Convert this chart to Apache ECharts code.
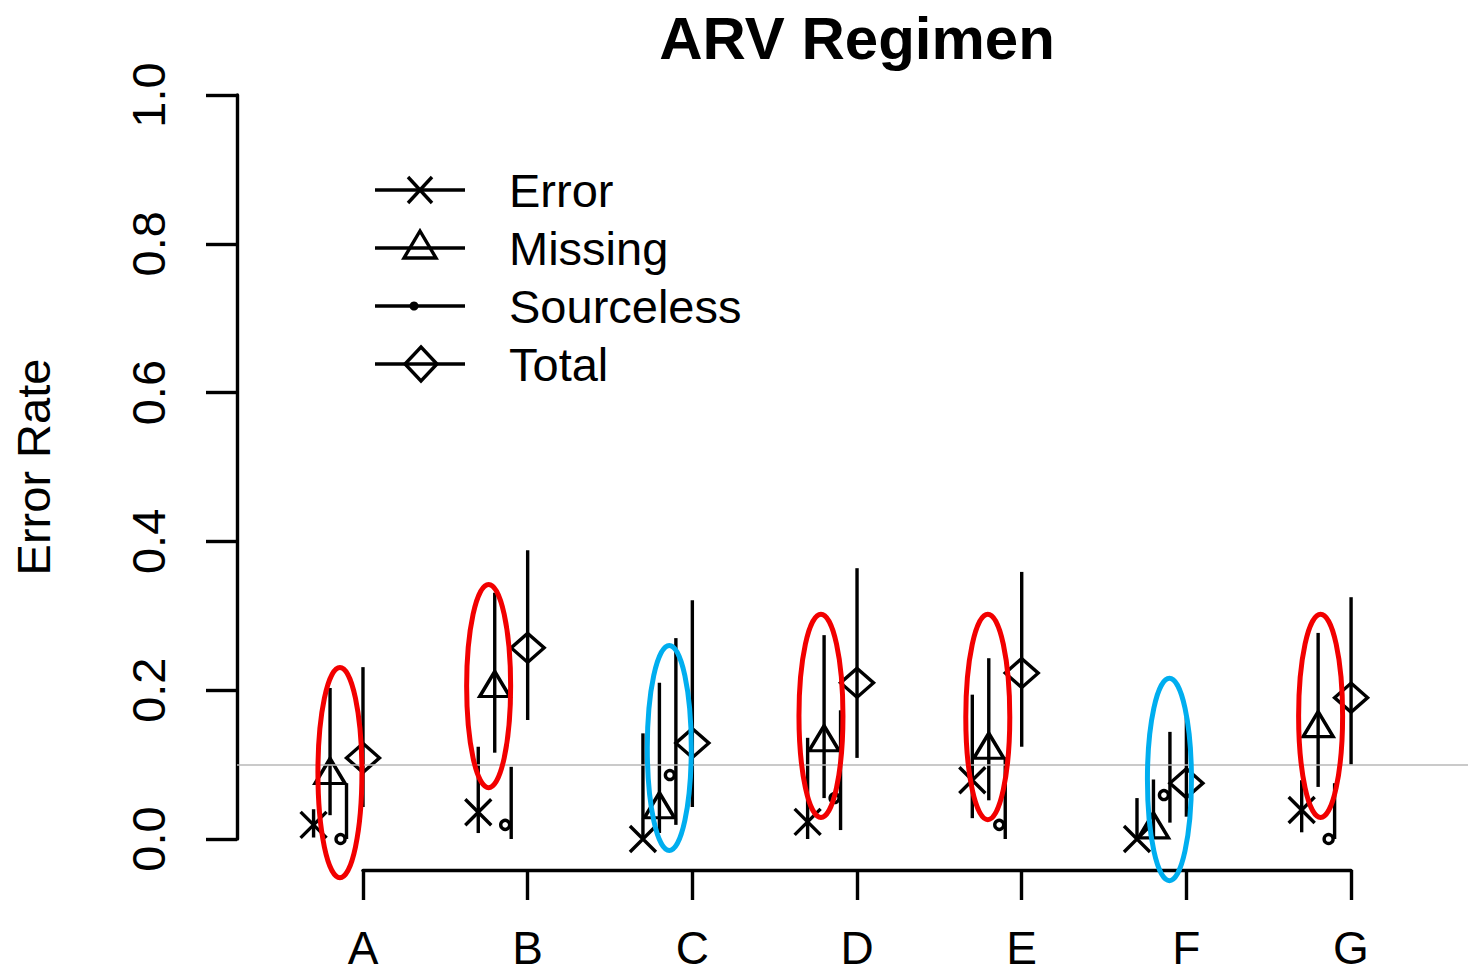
<!DOCTYPE html>
<html>
<head>
<meta charset="utf-8">
<script src="https://cdn.jsdelivr.net/npm/echarts@6/dist/echarts.min.js"></script>
<style>
html,body{margin:0;padding:0;background:#fff;}
#chart{width:1468px;height:976px;}
</style>
</head>
<body>
<div id="chart"></div>
<script>
// ---- data ----
const categories = ['A', 'B', 'C', 'D', 'E', 'F', 'G'];
const yTicks = [0, 0.2, 0.4, 0.6, 0.8, 1.0];

const errorMean = [0.019, 0.036, 0.0, 0.023, 0.079, 0.0, 0.039];
const errorLo   = [0.002, 0.008, 0.0, 0.0, 0.028, 0.0, 0.009];
const errorHi   = [0.040, 0.124, 0.142, 0.136, 0.194, 0.055, 0.079];

const missingMean = [0.086, 0.203, 0.040, 0.130, 0.120, 0.013, 0.149];
const missingLo   = [0.032, 0.116, 0.008, 0.055, 0.052, 0.0, 0.070];
const missingHi   = [0.203, 0.331, 0.210, 0.274, 0.243, 0.080, 0.277];

const sourcelessMean = [0.0, 0.019, 0.086, 0.055, 0.019, 0.059, 0.0];
const sourcelessLo   = [0.0, 0.0, 0.019, 0.012, 0.0, 0.022, 0.0];
const sourcelessHi   = [0.075, 0.097, 0.270, 0.173, 0.110, 0.144, 0.075];

const totalMean = [0.109, 0.257, 0.129, 0.210, 0.223, 0.075, 0.190];
const totalLo   = [0.043, 0.160, 0.043, 0.109, 0.124, 0.030, 0.100];
const totalHi   = [0.231, 0.388, 0.321, 0.364, 0.359, 0.164, 0.325];

// highlight ellipses (annotation): horizontal offset (category units), value range, colour key
const ellipseX   = [-0.14, -0.237, -0.14, -0.219, -0.206, -0.103, -0.185];
const ellipseLo  = [-0.052, 0.069, -0.0155, 0.029, 0.026, -0.056, 0.029];
const ellipseHi  = [0.2305, 0.342, 0.26, 0.302, 0.302, 0.216, 0.302];
const ellipseKey = ['red', 'red', 'blue', 'red', 'red', 'blue', 'red'];

const refLine = 0.1;

// ---- styling / layout ----
const FONT = "'Liberation Sans', Arial, Helvetica, sans-serif";
const COLORS = { red: '#f20000', blue: '#00aeef' };
const LW = 3.4;
const seriesDefs = [
  { name: 'Error', off: -0.30, mean: errorMean, lo: errorLo, hi: errorHi,
    symbol: 'path://M0,0L10,10M10,0L0,10', size: [26, 26], symOff: [0, 0], fill: 'none' },
  { name: 'Missing', off: -0.20, mean: missingMean, lo: missingLo, hi: missingHi,
    symbol: 'triangle', size: [30, 25], symOff: [0, -4], fill: 'none' },
  { name: 'Sourceless', off: -0.10, mean: sourcelessMean, lo: sourcelessLo, hi: sourcelessHi,
    symbol: 'circle', size: 9, symOff: [-6, 0], fill: '#fff' },
  { name: 'Total', off: 0.0, mean: totalMean, lo: totalLo, hi: totalHi,
    symbol: 'diamond', size: [33, 29], symOff: [0, 0], fill: 'none' }
];

const chart = echarts.init(document.getElementById('chart'), null, { renderer: 'svg' });

function barRender(params, api) {
  const x = api.value(0);
  const p1 = api.coord([x, api.value(1)]);
  const p2 = api.coord([x, api.value(2)]);
  return {
    type: 'line',
    shape: { x1: p1[0], y1: p1[1], x2: p2[0], y2: p2[1] },
    style: { stroke: '#000', lineWidth: LW }
  };
}

function ellipseRender(params, api) {
  const x = api.value(0);
  const p1 = api.coord([x, api.value(1)]);
  const p2 = api.coord([x, api.value(2)]);
  const key = ellipseKey[params.dataIndex];
  return {
    type: 'ellipse',
    shape: { cx: p1[0], cy: (p1[1] + p2[1]) / 2, rx: 22, ry: Math.abs(p1[1] - p2[1]) / 2 },
    style: { fill: 'none', stroke: COLORS[key], lineWidth: 5 }
  };
}

const series = [];
seriesDefs.forEach(function (d) {
  series.push({
    name: d.name + ' CI',
    type: 'custom',
    xAxisIndex: 0, yAxisIndex: 0,
    renderItem: barRender,
    clip: false,
    silent: true,
    z: 2,
    data: categories.map(function (c, i) { return [i + d.off, d.lo[i], d.hi[i]]; })
  });
  series.push({
    name: d.name,
    type: 'scatter',
    xAxisIndex: 0, yAxisIndex: 0,
    symbol: d.symbol,
    symbolSize: d.size,
    symbolOffset: d.symOff,
    silent: true,
    z: 3,
    itemStyle: { color: d.fill, borderColor: '#000', borderWidth: LW, opacity: 1 },
    data: categories.map(function (c, i) { return [i + d.off, d.mean[i]]; })
  });
});

// reference line at 0.1
series.push({
  name: 'ref',
  type: 'line',
  xAxisIndex: 0, yAxisIndex: 0,
  data: [],
  silent: true,
  z: 1,
  markLine: {
    silent: true,
    symbol: 'none',
    label: { show: false },
    lineStyle: { color: '#b8b8b8', width: 1.5, type: 'solid' },
    data: [{ yAxis: refLine }]
  }
});

// highlight ellipses
series.push({
  name: 'highlight',
  type: 'custom',
  xAxisIndex: 0, yAxisIndex: 0,
  renderItem: ellipseRender,
  clip: false,
  silent: true,
  z: 10,
  data: categories.map(function (c, i) { return [i + ellipseX[i], ellipseLo[i], ellipseHi[i]]; })
});

// legend drawn as graphic (line + marker + label)
const legendRows = [190, 248, 306, 364];
const legendGraphics = [];
seriesDefs.forEach(function (d, k) {
  const y = legendRows[k];
  legendGraphics.push({ type: 'line', shape: { x1: 375, y1: y, x2: 465, y2: y }, style: { stroke: '#000', lineWidth: LW } });
  if (d.name === 'Error') {
    legendGraphics.push({ type: 'line', shape: { x1: 408, y1: y - 13, x2: 432, y2: y + 13 }, style: { stroke: '#000', lineWidth: LW } });
    legendGraphics.push({ type: 'line', shape: { x1: 408, y1: y + 13, x2: 432, y2: y - 13 }, style: { stroke: '#000', lineWidth: LW } });
  } else if (d.name === 'Missing') {
    legendGraphics.push({ type: 'polygon', shape: { points: [[420, y - 17], [436, y + 10], [404, y + 10]] }, style: { fill: 'none', stroke: '#000', lineWidth: LW } });
  } else if (d.name === 'Sourceless') {
    legendGraphics.push({ type: 'circle', shape: { cx: 414, cy: y, r: 4.5 }, style: { fill: '#000' } });
  } else {
    legendGraphics.push({ type: 'polygon', shape: { points: [[421, y - 17], [437, y], [421, y + 17], [405, y]] }, style: { fill: 'none', stroke: '#000', lineWidth: LW } });
  }
  legendGraphics.push({ type: 'text', x: 509, y: y, style: { text: d.name, font: '47px ' + FONT, fill: '#000', textAlign: 'left', textVerticalAlign: 'middle' } });
});

const option = {
  animation: false,
  backgroundColor: '#fff',
  title: {
    text: 'ARV Regimen',
    left: 852,
    textAlign: 'center',
    top: 3,
    textStyle: { fontFamily: FONT, fontSize: 60, fontWeight: 'bold', color: '#000' }
  },
  graphic: legendGraphics,
  grid: [
    { left: 237, right: 0, top: 95, height: 744, containLabel: false },
    { left: 363, right: 117, top: 869, height: 1, containLabel: false }
  ],
  xAxis: [
    { type: 'value', gridIndex: 0, min: -0.765, max: 6.71, show: false },
    {
      type: 'category', gridIndex: 1, data: categories, boundaryGap: false, position: 'bottom',
      axisLine: { show: true, lineStyle: { color: '#000', width: LW } },
      axisTick: { show: true, length: 30, alignWithLabel: true, lineStyle: { color: '#000', width: LW } },
      axisLabel: { color: '#000', fontFamily: FONT, fontSize: 46, margin: 55, interval: 0 },
      splitLine: { show: false }
    }
  ],
  yAxis: [
    {
      type: 'value', gridIndex: 0, min: 0, max: 1, interval: 0.2,
      name: 'Error Rate', nameLocation: 'middle', nameRotate: 90, nameGap: 180,
      nameTextStyle: { color: '#000', fontFamily: FONT, fontSize: 47 },
      axisLine: { show: true, onZero: false, lineStyle: { color: '#000', width: LW } },
      axisTick: { show: true, length: 31, lineStyle: { color: '#000', width: LW } },
      axisLabel: {
        color: '#000', fontFamily: FONT, fontSize: 47, rotate: 90, margin: 65,
        formatter: function (v) { return v.toFixed(1); }
      },
      splitLine: { show: false }
    },
    { type: 'value', gridIndex: 1, show: false, min: 0, max: 1 }
  ],
  series: series
};

chart.setOption(option);
</script>
</body>
</html>
